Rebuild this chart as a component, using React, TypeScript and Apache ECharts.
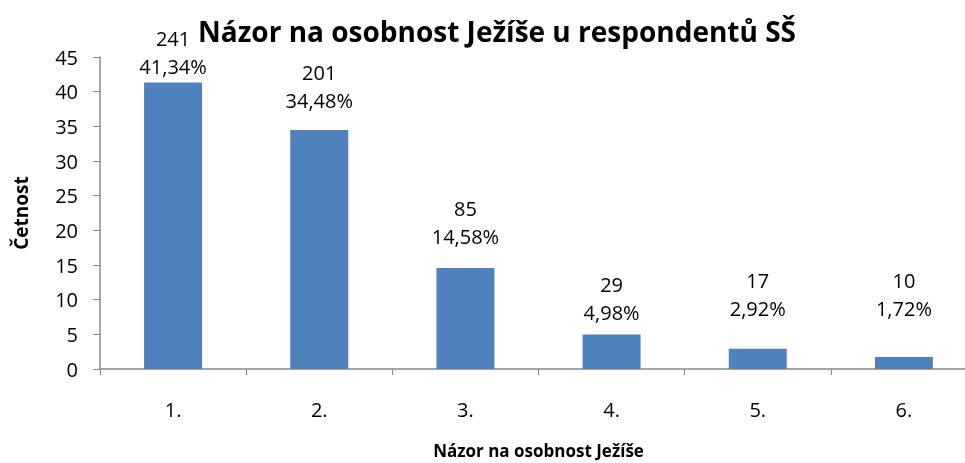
import React, { useEffect, useRef } from "react";
import * as echarts from "echarts";

const categories = ["1.", "2.", "3.", "4.", "5.", "6."];
const counts = [241, 201, 85, 29, 17, 10];
const percents = [41.34, 34.48, 14.58, 4.98, 2.92, 1.72];
const yTicks = { min: 0, max: 45, interval: 5 };

// label lift above each bar (styling, mimics the original label placement)
const labelLift = [2, 15, 17, 8, 26, 35];

const FONT = "'Open Sans', Lato, sans-serif";

export default function App() {
  const ref = useRef<HTMLDivElement>(null);
  useEffect(() => {
    if (!ref.current) return;
    const chart = echarts.init(ref.current, undefined, { renderer: "svg" });
    chart.setOption({
      animation: false,
      textStyle: { fontFamily: FONT },
      title: {
        text: "Názor na osobnost Ježíše u respondentů SŠ",
        left: 492,
        top: 12,
        textAlign: "center",
        textStyle: { fontFamily: FONT, fontSize: 28, fontWeight: "bold", color: "#000" },
      },
      grid: {
        left: 100,
        right: -12,
        top: 57,
        bottom: 94,
        containLabel: false,
        outerBoundsMode: "none",
      },
      xAxis: {
        type: "category",
        data: categories,
        name: "Názor na osobnost Ježíše",
        nameLocation: "middle",
        nameGap: 73,
        nameTextStyle: { fontFamily: FONT, fontSize: 17, fontWeight: "bold", color: "#000" },
        axisLine: { lineStyle: { color: "#888", width: 1.5 } },
        axisTick: { show: true, alignWithLabel: false, length: 6, lineStyle: { color: "#888" } },
        axisLabel: { fontFamily: FONT, fontSize: 20, color: "#000", margin: 30 },
      },
      yAxis: {
        type: "value",
        min: yTicks.min,
        max: yTicks.max,
        interval: yTicks.interval,
        name: "Četnost",
        nameLocation: "middle",
        nameGap: 70,
        nameRotate: 90,
        nameTextStyle: { fontFamily: FONT, fontSize: 19, fontWeight: "bold", color: "#000" },
        axisLine: { show: true, lineStyle: { color: "#888", width: 1.5 } },
        axisTick: { show: true, length: 7, lineStyle: { color: "#888" } },
        axisLabel: { fontFamily: FONT, fontSize: 20, color: "#000", margin: 22 },
        splitLine: { show: false },
      },
      series: [
        {
          type: "bar",
          barWidth: 58,
          itemStyle: { color: "#4F81BD" },
          data: percents.map((p, i) => ({
            value: p,
            label: {
              show: true,
              position: "top",
              distance: labelLift[i],
              formatter: `${counts[i]}\n${p.toFixed(2).replace(".", ",")}%`,
              fontFamily: FONT,
              fontSize: 20,
              lineHeight: 28,
              color: "#000",
              align: "center",
            },
          })),
        },
      ],
    });
    return () => chart.dispose();
  }, []);
  return <div ref={ref} style={{ position: "fixed", left: 0, top: 0, width: 965, height: 463 }} />;
}
